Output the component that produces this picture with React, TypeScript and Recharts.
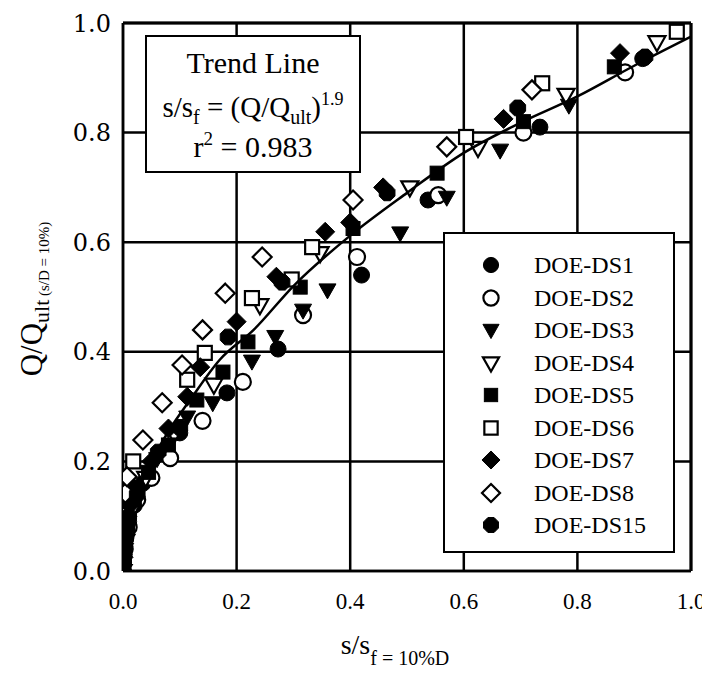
import React from 'react';
import { ScatterChart, Scatter, XAxis, YAxis, CartesianGrid, Legend } from 'recharts';

const T = "'Liberation Serif', 'Times New Roman', serif";
const YF = "'DejaVu Serif', serif";

// ---------- axis ticks ----------
const majorTicks = [0, 0.2, 0.4, 0.6, 0.8, 1.0];
const tickLabels = ['0.0', '0.2', '0.4', '0.6', '0.8', '1.0'];
const minorTicks = [0, 0.04, 0.08, 0.12, 0.16, 0.2, 0.24, 0.28, 0.32, 0.36, 0.4, 0.44, 0.48, 0.52, 0.56, 0.6, 0.64, 0.68, 0.72, 0.76, 0.8, 0.84, 0.88, 0.92, 0.96, 1.0];

// ---------- series ----------
const seriesNames = ['DOE-DS1', 'DOE-DS2', 'DOE-DS3', 'DOE-DS4', 'DOE-DS5', 'DOE-DS6', 'DOE-DS7', 'DOE-DS8', 'DOE-DS15'];
const seriesShapes = ['circle', 'circleOpen', 'tri', 'triOpen', 'square', 'squareOpen', 'diamond', 'diamondOpen', 'octagon'];

const ds1X = [0.000, 0.001, 0.002, 0.003, 0.005, 0.010, 0.020, 0.035, 0.074, 0.100, 0.183, 0.273, 0.420, 0.537, 0.734, 0.915];
const ds1Y = [0.000, 0.015, 0.030, 0.045, 0.060, 0.090, 0.120, 0.160, 0.215, 0.252, 0.325, 0.405, 0.540, 0.677, 0.810, 0.935];

const ds2X = [0.000, 0.003, 0.010, 0.025, 0.050, 0.083, 0.140, 0.211, 0.317, 0.412, 0.555, 0.705, 0.884];
const ds2Y = [0.000, 0.040, 0.080, 0.130, 0.170, 0.206, 0.274, 0.345, 0.467, 0.573, 0.686, 0.800, 0.910];

const ds3X = [0.000, 0.001, 0.004, 0.007, 0.012, 0.030, 0.060, 0.113, 0.158, 0.227, 0.268, 0.317, 0.360, 0.488, 0.570, 0.664, 0.785];
const ds3Y = [0.000, 0.020, 0.050, 0.075, 0.100, 0.150, 0.205, 0.281, 0.307, 0.383, 0.428, 0.476, 0.513, 0.617, 0.682, 0.768, 0.850];

const ds4X = [0.000, 0.005, 0.015, 0.040, 0.090, 0.160, 0.241, 0.347, 0.505, 0.625, 0.780, 0.940];
const ds4Y = [0.000, 0.055, 0.110, 0.170, 0.250, 0.340, 0.485, 0.580, 0.700, 0.772, 0.869, 0.965];

const ds5X = [0.000, 0.001, 0.003, 0.005, 0.008, 0.020, 0.045, 0.080, 0.130, 0.176, 0.220, 0.312, 0.405, 0.553, 0.705, 0.865];
const ds5Y = [0.000, 0.020, 0.040, 0.060, 0.080, 0.130, 0.180, 0.230, 0.312, 0.363, 0.418, 0.518, 0.625, 0.726, 0.820, 0.920];

const ds6X = [0.000, 0.006, 0.018, 0.113, 0.144, 0.227, 0.297, 0.333, 0.604, 0.738, 0.975];
const ds6Y = [0.000, 0.080, 0.200, 0.349, 0.398, 0.498, 0.532, 0.591, 0.792, 0.890, 0.984];

const ds7X = [0.000, 0.001, 0.002, 0.004, 0.008, 0.012, 0.020, 0.050, 0.080, 0.113, 0.136, 0.200, 0.270, 0.356, 0.400, 0.458, 0.670, 0.875];
const ds7Y = [0.000, 0.025, 0.050, 0.075, 0.100, 0.120, 0.150, 0.200, 0.260, 0.318, 0.372, 0.455, 0.537, 0.619, 0.636, 0.700, 0.825, 0.945];

const ds8X = [0.002, 0.004, 0.007, 0.035, 0.069, 0.104, 0.140, 0.180, 0.245, 0.405, 0.570, 0.720];
const ds8Y = [0.100, 0.142, 0.172, 0.239, 0.307, 0.376, 0.440, 0.507, 0.573, 0.677, 0.774, 0.878];

const ds15X = [0.000, 0.001, 0.002, 0.004, 0.006, 0.010, 0.025, 0.062, 0.100, 0.185, 0.280, 0.465, 0.695, 0.919];
const ds15Y = [0.000, 0.020, 0.040, 0.060, 0.080, 0.100, 0.140, 0.217, 0.262, 0.427, 0.527, 0.690, 0.845, 0.938];

// trend line s/sf = (Q/Qult)^1.9
const trendX = [0, 0.002, 0.006, 0.012, 0.025, 0.05, 0.08, 0.12, 0.17, 0.23, 0.3, 0.4, 0.5, 0.6, 0.7, 0.8, 0.9, 1.0];
const trendY = [0, 0.04, 0.07, 0.097, 0.14, 0.2, 0.255, 0.315, 0.385, 0.44, 0.52, 0.612, 0.69, 0.763, 0.818, 0.866, 0.922, 0.975];

const seriesX = [ds1X, ds2X, ds3X, ds4X, ds5X, ds6X, ds7X, ds8X, ds15X];
const seriesY = [ds1Y, ds2Y, ds3Y, ds4Y, ds5Y, ds6Y, ds7Y, ds8Y, ds15Y];

const zip = (xs: number[], ys: number[]) => xs.map((x, i) => ({ x, y: ys[i] }));
const trendData = zip(trendX, trendY);

function drawMarker(kind: string, cx: number, cy: number, s = 1) {
  const open = kind.endsWith('Open');
  const base = kind.replace('Open', '');
  const fill = open ? '#fff' : '#000';
  const sw = open ? 2.2 : 1;
  const common = { fill, stroke: '#000', strokeWidth: sw };
  switch (base) {
    case 'circle':
      return <circle cx={cx} cy={cy} r={8 * s} {...common} />;
    case 'tri': {
      const w = 8.5 * s;
      const pts = `${cx - w},${cy - 6 * s} ${cx + w},${cy - 6 * s} ${cx},${cy + 9 * s}`;
      return <polygon points={pts} {...common} />;
    }
    case 'square': {
      const h = 7 * s;
      return <rect x={cx - h} y={cy - h} width={2 * h} height={2 * h} {...common} />;
    }
    case 'diamond': {
      const d = 9.5 * s;
      const pts = `${cx},${cy - d} ${cx + d},${cy} ${cx},${cy + d} ${cx - d},${cy}`;
      return <polygon points={pts} {...common} />;
    }
    case 'octagon': {
      const r = 8.5 * s;
      const pts: string[] = [];
      for (let k = 0; k < 8; k++) {
        const a = (Math.PI / 4) * k + Math.PI / 8;
        pts.push(`${cx + r * Math.cos(a)},${cy + r * Math.sin(a)}`);
      }
      return <polygon points={pts.join(' ')} {...common} />;
    }
    default:
      return <g />;
  }
}

const YTitle = (props: any) => {
  const vb = props.viewBox || { x: 0, y: 15, width: 115, height: 548 };
  const cx = vb.x + 34;
  const cy = vb.y + vb.height / 2 + 2;
  return (
    <text transform={`rotate(-90 ${cx} ${cy})`} x={cx} y={cy} textAnchor="middle" fontFamily={T} fill="#000">
      <tspan fontSize={31}>Q/Q</tspan>
      <tspan fontSize={22} dy={7}>ult</tspan>
      <tspan fontSize={15}> (s/D = 10%)</tspan>
    </text>
  );
};

const XTitle = (props: any) => {
  const vb = props.viewBox || { x: 115, y: 563, width: 568, height: 102 };
  const cx = vb.x + vb.width / 2 - 12;
  const by = vb.y + 83;
  return (
    <text x={cx} y={by} textAnchor="middle" fontFamily={T} fill="#000">
      <tspan fontSize={28}>s/s</tspan>
      <tspan fontSize={20} dy={11}>f = 10%D</tspan>
    </text>
  );
};

const renderLegend = () => (
  <div
    style={{
      width: 232,
      height: 321,
      border: '2.5px solid #000',
      background: '#fff',
      boxSizing: 'border-box',
      position: 'relative',
      fontFamily: T,
      color: '#000',
    }}
  >
    {seriesNames.map((n, i) => (
      <div key={n} style={{ position: 'absolute', left: 0, top: 31 + 32.5 * i - 16, height: 32, width: '100%' }}>
        <svg style={{ position: 'absolute', left: 46 - 12, top: 4 }} width={24} height={24}>
          {drawMarker(seriesShapes[i], 12, 12, 0.95)}
        </svg>
        <span style={{ position: 'absolute', left: 89, top: 0, fontSize: 24, lineHeight: '32px', whiteSpace: 'nowrap' }}>{n}</span>
      </div>
    ))}
  </div>
);

const subStyle = (size: number, top: number): React.CSSProperties => ({ fontSize: size, position: 'relative', top });

export default function App() {
  const axisLineStyle = { stroke: '#000', strokeWidth: 2.5 };
  const minorLine = { stroke: '#000', strokeWidth: 1.5 };
  return (
    <div style={{ position: 'relative', width: 700, height: 665 }}>
      <ScatterChart width={700} height={665} margin={{ top: 15, right: 17, bottom: 0, left: 0 }}>
        <CartesianGrid stroke="#000" strokeWidth={2.5} />
        <XAxis
          type="number"
          dataKey="x"
          domain={[0, 1]}
          allowDataOverflow
          ticks={majorTicks}
          interval={0}
          tickFormatter={(v: number, i: number) => tickLabels[i] ?? v.toFixed(1)}
          height={102}
          tickLine={false}
          tickSize={0}
          tickMargin={22}
          axisLine={axisLineStyle}
          tick={{ fill: '#000', fontSize: 23, fontFamily: T }}
          label={{ content: XTitle }}
        />
        <YAxis
          type="number"
          dataKey="y"
          domain={[0, 1]}
          allowDataOverflow
          ticks={majorTicks}
          interval={0}
          tickFormatter={(v: number, i: number) => tickLabels[i] ?? v.toFixed(1)}
          width={115}
          tickLine={false}
          tickSize={0}
          tickMargin={12}
          axisLine={axisLineStyle}
          tick={{ fill: '#000', fontSize: 24, fontFamily: YF }}
          label={{ content: YTitle }}
        />
        <XAxis xAxisId="mb" type="number" orientation="bottom" mirror height={1} domain={[0, 1]} allowDataOverflow ticks={minorTicks} interval={0} tick={false} tickSize={6} tickLine={minorLine} axisLine={false} />
        <XAxis xAxisId="mt" type="number" orientation="top" mirror height={1} domain={[0, 1]} allowDataOverflow ticks={minorTicks} interval={0} tick={false} tickSize={6} tickLine={minorLine} axisLine={{ stroke: '#000', strokeWidth: 3 }} />
        <YAxis yAxisId="ml" type="number" orientation="left" mirror width={1} domain={[0, 1]} allowDataOverflow ticks={minorTicks} interval={0} tick={false} tickSize={6} tickLine={minorLine} axisLine={false} />
        <YAxis yAxisId="mr" type="number" orientation="right" mirror width={1} domain={[0, 1]} allowDataOverflow ticks={minorTicks} interval={0} tick={false} tickSize={6} tickLine={minorLine} axisLine={{ stroke: '#000', strokeWidth: 3 }} />
        {seriesNames.map((name, i) => (
          <Scatter
            key={name}
            name={name}
            data={zip(seriesX[i], seriesY[i])}
            isAnimationActive={false}
            shape={(p: any) => drawMarker(seriesShapes[i], p.cx, p.cy)}
          />
        ))}
        <Scatter
          name="Trend Line"
          data={trendData}
          isAnimationActive={false}
          line={{ stroke: '#000', strokeWidth: 2.5 }}
          lineJointType="monotoneX"
          shape={() => <g />}
          legendType="none"
        />
        <Legend
          content={renderLegend}
          layout="horizontal"
          verticalAlign="middle"
          align="center"
          wrapperStyle={{ left: 435, top: 224, width: 232, height: 321 }}
        />
      </ScatterChart>
      <div
        style={{
          position: 'absolute',
          left: 137,
          top: 27,
          width: 216,
          height: 138,
          border: '2.5px solid #000',
          background: '#fff',
          boxSizing: 'border-box',
          fontFamily: T,
          color: '#000',
          textAlign: 'center',
        }}
      >
        <div style={{ position: 'absolute', left: 0, right: 0, top: 10, fontSize: 30, lineHeight: '32px', whiteSpace: 'nowrap' }}>Trend Line</div>
        <div style={{ position: 'absolute', left: 0, right: 0, top: 54, fontSize: 29, lineHeight: '32px', whiteSpace: 'nowrap' }}>
          <span>s/s</span>
          <span style={subStyle(20, 7)}>f</span>
          <span> = (Q/Q</span>
          <span style={subStyle(20, 7)}>ult</span>
          <span>)</span>
          <span style={subStyle(18, -12)}>1.9</span>
        </div>
        <div style={{ position: 'absolute', left: 0, right: 0, top: 94, fontSize: 30, lineHeight: '32px', whiteSpace: 'nowrap' }}>
          <span>r</span>
          <span style={subStyle(19, -12)}>2</span>
          <span> = 0.983</span>
        </div>
      </div>
    </div>
  );
}
